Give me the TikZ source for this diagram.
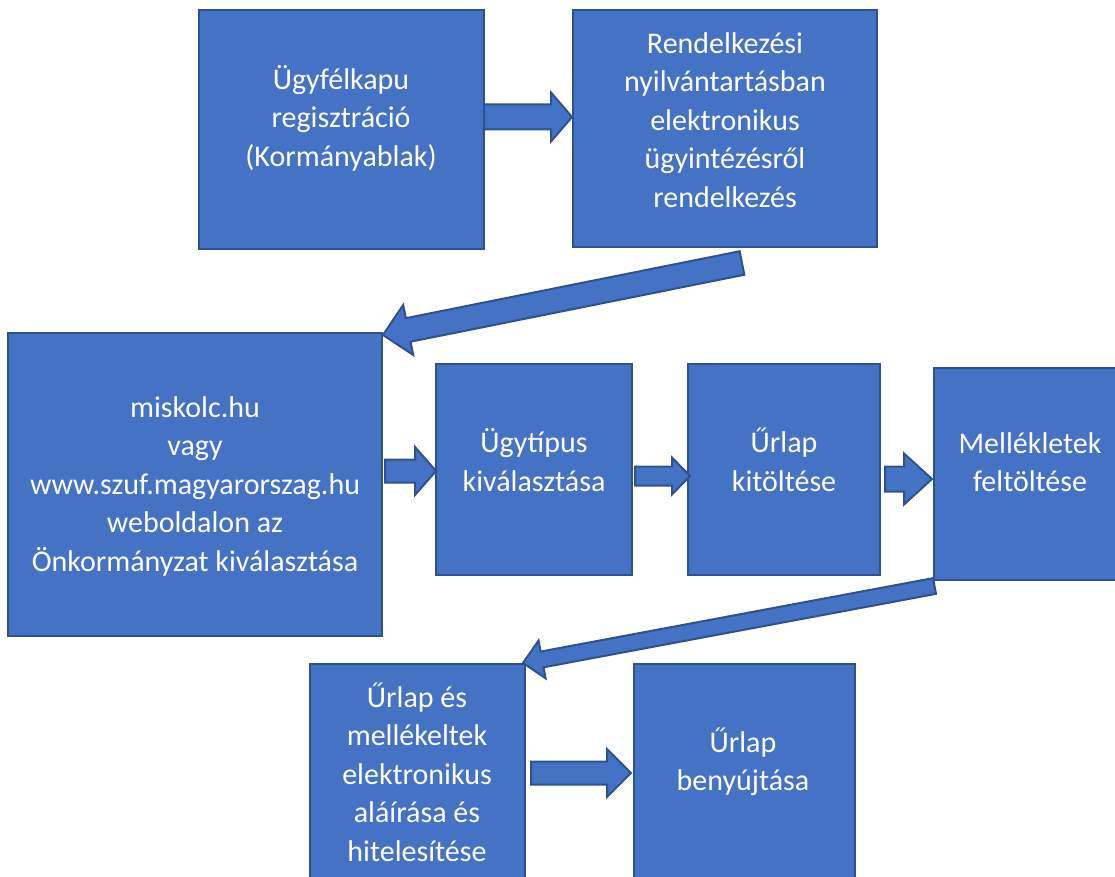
\documentclass[tikz,border=0pt]{standalone}
\usepackage{fontspec}
\setmainfont{Carlito}
\usetikzlibrary{calc}
\definecolor{boxfill}{HTML}{4472C4}
\definecolor{boxline}{HTML}{2F528F}
\tikzset{
  box/.style={draw=boxline, line width=2pt, fill=boxfill},
  lbl/.style={text=white, align=center, font=\fontsize{30}{38.5}\selectfont, inner sep=0pt},
  blk/.style={draw=boxline, line width=2pt, fill=boxfill, line join=miter}
}
% \blockarrow{tail}{tip}{shaft half}{head half}{head length}
\newcommand{\blockarrow}[5]{%
  \path ($(#2)!#5pt!(#1)$) coordinate (hb);
  \draw[blk] ($(#1)!#3pt!90:(#2)$) -- ($(hb)!#3pt!90:(#2)$) -- ($(hb)!#4pt!90:(#2)$) -- (#2)
    -- ($(hb)!#4pt!-90:(#2)$) -- ($(hb)!#3pt!-90:(#2)$) -- ($(#1)!#3pt!-90:(#2)$) -- cycle;
}
\begin{document}
\begin{tikzpicture}[x=1pt,y=-1pt]
\useasboundingbox (0,0) rectangle (1115,877);
\clip (0,0) rectangle (1115,877);
% boxes
\draw[box] (199,10) rectangle (484,249) node[midway] (b1) {};
\draw[box] (573,10) rectangle (877,247) node[midway] (b2) {};
\draw[box] (8,333) rectangle (382,636) node[midway] (b3) {};
\draw[box] (436,364) rectangle (632,575) node[midway] (b4) {};
\draw[box] (688,364) rectangle (880,575) node[midway] (b5) {};
\draw[box] (934,368) rectangle (1127,580) node[midway] (b6) {};
\draw[box] (310,664) rectangle (525,895) node[midway] (b7) {};
\draw[box] (634,664) rectangle (855,895) node[midway] (b8) {};
% labels
\node[lbl] (t1) at (341,118) {Ügyfélkapu\\regisztráció\\(Kormányablak)};
\node[lbl] (t2) at (725,120) {Rendelkezési\\nyilvántartásban\\elektronikus\\ügyintézésről\\rendelkezés};
\node[lbl] (t3) at (195,486) {miskolc.hu\\vagy\\www.szuf.magyarorszag.hu\\weboldalon az\\Önkormányzat kiválasztása};
\node[lbl] (t4) at (534,460) {Ügytípus\\kiválasztása};
\node[lbl] (t5) at (784,460) {Űrlap\\kitöltése};
\node[lbl] (t6) at (1030,462) {Mellékletek\\feltöltése};
\node[lbl] (t7) at (417,772) {Űrlap és\\mellékeltek\\elektronikus\\aláírása és\\hitelesítése};
\node[lbl] (t8) at (743,762) {Űrlap\\benyújtása};
% arrow end points
\coordinate (a1s) at (484,117); \coordinate (a1e) at (572,117);
\coordinate (a2s) at (742,263); \coordinate (a2e) at (383,335);
\coordinate (a3s) at (385,471); \coordinate (a3e) at (436,471);
\coordinate (a4s) at (635,476); \coordinate (a4e) at (690,476);
\coordinate (a5s) at (885,479); \coordinate (a5e) at (932,479);
\coordinate (a6s) at (934.5,586); \coordinate (a6e) at (523,663);
\coordinate (a7s) at (531,773); \coordinate (a7e) at (631,773);
\blockarrow{a1s}{a1e}{12.5}{24.5}{21}
\blockarrow{a2s}{a2e}{12}{25.5}{25.7}
\blockarrow{a3s}{a3e}{11.5}{24}{21}
\blockarrow{a4s}{a4e}{9.5}{18.5}{18}
\blockarrow{a5s}{a5e}{12.5}{25.5}{28}
\blockarrow{a6s}{a6e}{8}{19.2}{19.4}
\blockarrow{a7s}{a7e}{11.5}{24}{24}
\end{tikzpicture}
\end{document}
